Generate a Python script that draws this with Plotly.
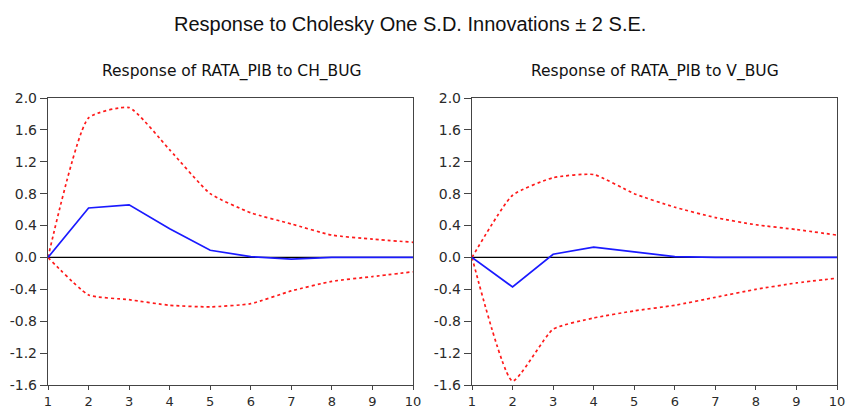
import plotly.graph_objects as go

periods = [1, 2, 3, 4, 5, 6, 7, 8, 9, 10]

ch_resp = [0.0, 0.62, 0.66, 0.36, 0.09, 0.01, -0.02, 0.0, 0.0, 0.0]
ch_upper = [0.0, 1.75, 1.88, 1.35, 0.80, 0.56, 0.42, 0.28, 0.23, 0.19]
ch_lower = [0.0, -0.47, -0.53, -0.60, -0.62, -0.58, -0.42, -0.30, -0.24, -0.18]

v_resp = [0.0, -0.37, 0.04, 0.13, 0.07, 0.01, 0.0, 0.0, 0.0, 0.0]
v_upper = [0.0, 0.78, 1.00, 1.04, 0.80, 0.63, 0.50, 0.41, 0.35, 0.28]
v_lower = [0.0, -1.55, -0.90, -0.76, -0.67, -0.60, -0.50, -0.40, -0.32, -0.26]

y_ticks = [2.0, 1.6, 1.2, 0.8, 0.4, 0.0, -0.4, -0.8, -1.2, -1.6]
y_labels = ["2.0", "1.6", "1.2", "0.8", "0.4", "0.0", "-0.4", "-0.8", "-1.2", "-1.6"]

title = "Response to Cholesky One S.D. Innovations \u00b1 2 S.E."
subtitles = ["Response of RATA_PIB to CH_BUG", "Response of RATA_PIB to V_BUG"]

W, H = 847, 411

fig = go.Figure()

panels = [
    (ch_resp, ch_upper, ch_lower, "x", "y"),
    (v_resp, v_upper, v_lower, "x2", "y2"),
]
for resp, up, lo, xa, ya in panels:
    # zero line
    fig.add_trace(go.Scatter(x=[periods[0], periods[-1]], y=[0, 0], xaxis=xa, yaxis=ya,
                             mode="lines", line=dict(color="black", width=1.2),
                             showlegend=False, hoverinfo="skip"))
    for band in (up, lo):
        fig.add_trace(go.Scatter(x=periods, y=band, xaxis=xa, yaxis=ya, mode="lines",
                                 line=dict(color="#ff1a1a", width=1.7, dash="3px,3px",
                                           shape="spline", smoothing=0.5),
                                 showlegend=False))
    fig.add_trace(go.Scatter(x=periods, y=resp, xaxis=xa, yaxis=ya, mode="lines",
                             line=dict(color="#1a1aff", width=1.7),
                             showlegend=False))

tick_font_y = dict(family="DejaVu Sans, Verdana", size=14, color="#2a2a2a")
tick_font_x = dict(family="DejaVu Sans, Verdana", size=13, color="#2a2a2a")
axis_common_x = dict(range=[1, 10], tickmode="array", tickvals=periods, automargin=False,
                     ticks="outside", ticklen=4, tickcolor="#444", tickwidth=1.2,
                     showgrid=False, zeroline=False, showline=True, mirror=True,
                     linecolor="#444", linewidth=1.4, tickfont=tick_font_x)
axis_common_y = dict(range=[-1.6, 2.0], tickmode="array", tickvals=y_ticks, ticktext=y_labels,
                     automargin=False,
                     ticks="outside", ticklen=7, tickcolor="#444", tickwidth=1.2,
                     showgrid=False, zeroline=False, showline=True, mirror=True,
                     linecolor="#444", linewidth=1.4, tickfont=tick_font_y)

fig.update_layout(
    width=W, height=H,
    margin=dict(l=0, r=0, t=0, b=0),
    paper_bgcolor="white", plot_bgcolor="white",
    xaxis=dict(domain=[48 / W, 413 / W], anchor="y", **axis_common_x),
    yaxis=dict(domain=[1 - 385 / H, 1 - 98 / H], anchor="x", **axis_common_y),
    xaxis2=dict(domain=[472 / W, 837 / W], anchor="y2", **axis_common_x),
    yaxis2=dict(domain=[1 - 385 / H, 1 - 98 / H], anchor="x2", **axis_common_y),
    annotations=[
        dict(text=title, x=410 / W, y=1 - 24 / H, xref="paper", yref="paper",
             showarrow=False, xanchor="center", yanchor="middle",
             font=dict(family="Liberation Sans, Arial", size=20, color="#111")),
        dict(text=subtitles[0], x=232 / W, y=1 - 71 / H, xref="paper", yref="paper",
             showarrow=False, xanchor="center", yanchor="middle",
             font=dict(family="DejaVu Sans, Verdana", size=15.5, color="#111")),
        dict(text=subtitles[1], x=655 / W, y=1 - 71 / H, xref="paper", yref="paper",
             showarrow=False, xanchor="center", yanchor="middle",
             font=dict(family="DejaVu Sans, Verdana", size=15.5, color="#111")),
    ],
)

fig.write_html("out.html", config={"displayModeBar": False},
               post_script="document.body.style.margin='0';document.body.style.padding='0';")
